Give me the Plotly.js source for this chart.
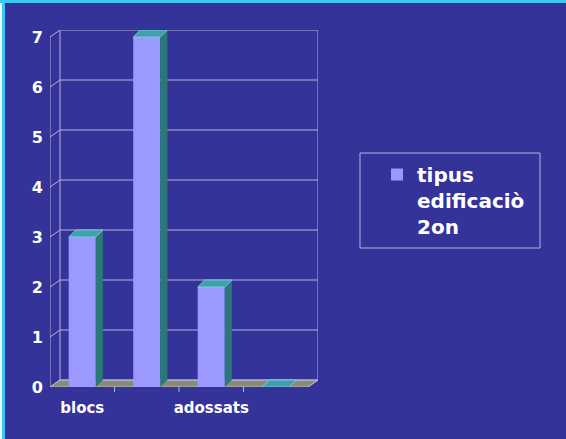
<!DOCTYPE html>
<html><head><meta charset="utf-8">
<script src="https://cdn.plot.ly/plotly-3.0.1.min.js"></script>
<style>html,body{margin:0;padding:0;background:#333399;} #chart{width:566px;height:439px;}</style>
</head><body><div id="chart"></div>
<script>
// ---- data ----
const categories = ['blocs', '', 'adossats', ''];
const values = [3, 7, 2, 0];
const yTicks = [0, 1, 2, 3, 4, 5, 6, 7];
const boundaryTicks = [0.5, 1.5, 2.5];
const seriesName = 'tipus<br>edificaciò<br>2on';

// ---- geometry / style ----
const W = 566, H = 439;
const M = {l: 50, r: 248, t: 30, b: 52};
const pw = W - M.l - M.r, ph = H - M.t - M.b;
const px = x => (x - M.l) / pw;
const py = y => (H - M.b - y) / ph;

const barW = 0.42, bdx = 0.11, bdy = 0.14, wdx = 0.155, wdy = 0.14;
const xMin = -0.5, xMax = categories.length - 0.5;
const yTop = Math.max(...yTicks);

const BG = '#333399', FRONT = '#9999FF', SIDE = '#2B7878', TOP = '#40A0B0';
const GRID = '#B4B4DC', FLOOR = '#8A8A78', CYAN = '#3CC8F0';
const FONT = 'DejaVu Sans';

const idx = categories.map((_, i) => i);
const traces = [];

traces.push({
  type: 'bar', x: idx, y: values, width: barW, name: seriesName,
  marker: {color: FRONT, line: {width: 0}}, hoverinfo: 'y', showlegend: true
});

values.forEach((v, i) => {
  const xl = i - barW / 2, xr = i + barW / 2;
  if (v > 0) {
    traces.push({
      type: 'scatter', mode: 'lines', fill: 'toself', fillcolor: SIDE,
      x: [xr, xr + bdx, xr + bdx, xr, xr], y: [0, bdy, v + bdy, v, 0],
      line: {width: 0, color: SIDE}, hoverinfo: 'skip', showlegend: false
    });
  }
  traces.push({
    type: 'scatter', mode: 'lines', fill: 'toself', fillcolor: TOP,
    x: [xl, xl + bdx, xr + bdx, xr, xl], y: [v, v + bdy, v + bdy, v, v],
    line: {width: 0.8, color: '#8FD0D8'}, hoverinfo: 'skip', showlegend: false
  });
});

const shapes = [];
// floor
shapes.push({type: 'path', xref: 'x', yref: 'y', layer: 'below',
  path: `M${xMin},0 L${xMin + wdx},${wdy} L${xMax + wdx},${wdy} L${xMax},0 Z`,
  fillcolor: FLOOR, line: {color: '#C8C8D0', width: 0.8}});
// back-wall gridlines and left connectors
yTicks.forEach(t => {
  shapes.push({type: 'line', xref: 'x', yref: 'y', layer: 'below',
    x0: xMin + wdx, x1: xMax + wdx, y0: t + wdy, y1: t + wdy, line: {color: GRID, width: 1}});
  shapes.push({type: 'line', xref: 'x', yref: 'y', layer: 'above',
    x0: xMin, x1: xMin + wdx, y0: t, y1: t + wdy, line: {color: GRID, width: 1}});
});
// wall verticals
shapes.push({type: 'line', xref: 'x', yref: 'y', layer: 'below',
  x0: xMin + wdx, x1: xMin + wdx, y0: wdy, y1: yTop + wdy, line: {color: GRID, width: 1}});
shapes.push({type: 'line', xref: 'x', yref: 'y', layer: 'below',
  x0: xMax + wdx, x1: xMax + wdx, y0: wdy, y1: yTop + wdy, line: {color: GRID, width: 1}});
// front value axis
shapes.push({type: 'line', xref: 'x', yref: 'y', layer: 'above',
  x0: xMin, x1: xMin, y0: 0, y1: yTop, line: {color: GRID, width: 1}});
// floor right edge
shapes.push({type: 'line', xref: 'x', yref: 'y', layer: 'below',
  x0: xMax, x1: xMax + wdx, y0: 0, y1: wdy, line: {color: GRID, width: 1}});
// category boundary ticks
boundaryTicks.forEach(b => {
  shapes.push({type: 'line', xref: 'x', yref: 'paper', layer: 'above',
    x0: b, x1: b, y0: 0, y1: -5 / ph, line: {color: GRID, width: 1}});
});
// legend box
shapes.push({type: 'rect', xref: 'paper', yref: 'paper', layer: 'below',
  x0: px(360), x1: px(540), y0: py(248), y1: py(153),
  line: {color: GRID, width: 1}, fillcolor: 'rgba(0,0,0,0)'});
// frame
shapes.push({type: 'rect', xref: 'paper', yref: 'paper', layer: 'above',
  x0: px(0), x1: px(2), y0: py(H), y1: py(0), line: {width: 0}, fillcolor: '#F0F4FF'});
shapes.push({type: 'rect', xref: 'paper', yref: 'paper', layer: 'above',
  x0: px(2), x1: px(5), y0: py(H), y1: py(0), line: {width: 0}, fillcolor: CYAN});
shapes.push({type: 'rect', xref: 'paper', yref: 'paper', layer: 'above',
  x0: px(0), x1: px(W), y0: py(3), y1: py(0), line: {width: 0}, fillcolor: CYAN});

const layout = {
  width: W, height: H, margin: M,
  paper_bgcolor: BG, plot_bgcolor: BG,
  showlegend: true,
  xaxis: {range: [xMin, xMax + wdx], tickvals: idx, ticktext: categories,
    showgrid: false, zeroline: false, showline: false, ticks: '',
    ticklabelstandoff: 10,
    tickfont: {family: FONT, size: 15, color: '#FFFFFF', weight: 'bold'}, fixedrange: true},
  yaxis: {range: [0, yTop + wdy], tickvals: yTicks, showgrid: false, zeroline: false,
    showline: false, ticks: '', ticklabelstandoff: 6,
    tickfont: {family: FONT, size: 16, color: '#FFFFFF', weight: 'bold'}, fixedrange: true},
  legend: {x: px(377), y: py(155), xanchor: 'left', yanchor: 'top',
    bgcolor: 'rgba(0,0,0,0)', borderwidth: 0, valign: 'top',
    font: {family: FONT, size: 20, color: '#FFFFFF', weight: 'bold'}},
  shapes: shapes
};

Plotly.newPlot('chart', traces, layout, {displayModeBar: false, staticPlot: true});
</script>
</body></html>
